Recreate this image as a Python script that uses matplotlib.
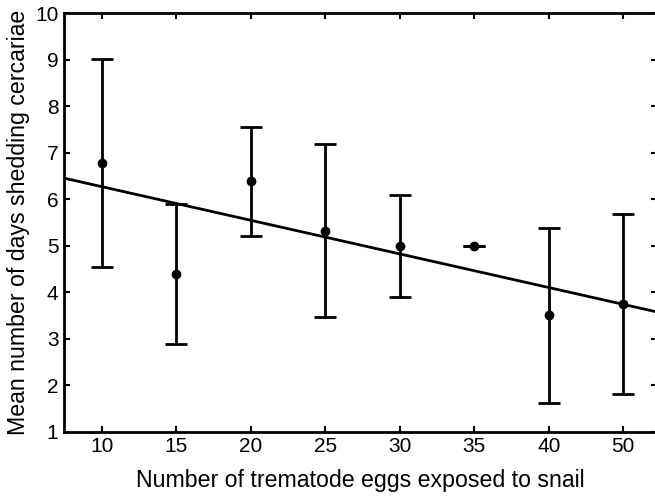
import matplotlib
matplotlib.use("Agg")
import matplotlib.pyplot as plt
import numpy as np

plt.rcParams['font.family'] = ['Liberation Sans', 'DejaVu Sans']

# data
egg_labels = ['10', '15', '20', '25', '30', '35', '40', '50']
mean_days = [6.78, 4.39, 6.39, 5.32, 5.00, 5.00, 3.50, 3.75]
err_days = [2.24, 1.51, 1.17, 1.86, 1.10, 0.0, 1.89, 1.93]

# fitted regression line (in category-index units)
line_intercept = 6.27
line_slope = -0.3615

x = np.arange(len(egg_labels))
xlim = (-0.51, 7.45)

fig = plt.figure(figsize=(6.55, 4.96), dpi=100)
ax = fig.add_axes([0.0977, 0.1296, 0.905, 0.8436])

ax.errorbar(x, mean_days, yerr=err_days, fmt='o', color='black', ms=6,
            elinewidth=2, capsize=8, capthick=2)

xl = np.array(xlim)
ax.plot(xl, line_intercept + line_slope * xl, color='black', lw=2)

ax.set_xlim(*xlim)
ax.set_ylim(1, 10)
ax.set_xticks(x)
ax.set_xticklabels(egg_labels)
ax.set_yticks(range(1, 11))

for s in ax.spines.values():
    s.set_linewidth(2)
ax.tick_params(direction='in', length=4, width=1.5, top=True, right=True,
               labelsize=15, pad=4)

ax.set_xlabel("Number of trematode eggs exposed to snail", fontsize=16.7, labelpad=9)
ax.set_ylabel("Mean number of days shedding cercariae", fontsize=16.7, labelpad=4)

fig.savefig("out.png", dpi=100)
